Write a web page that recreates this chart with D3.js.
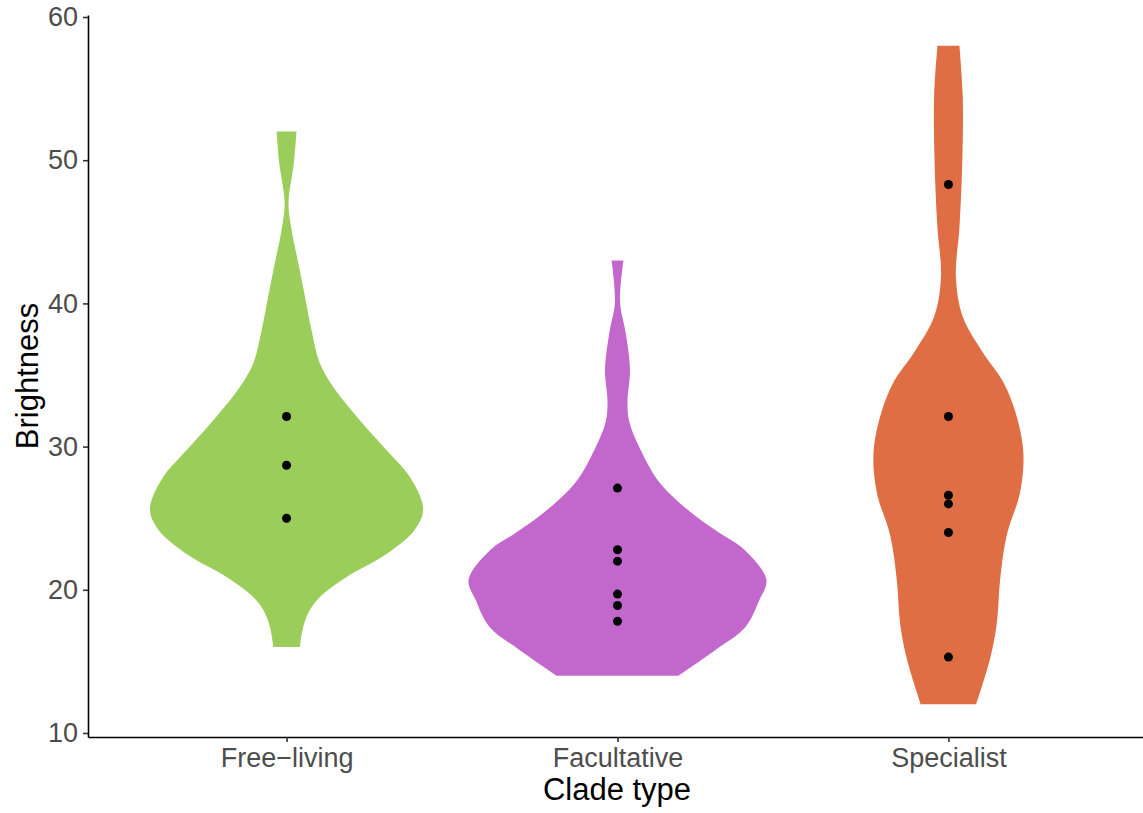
<!DOCTYPE html>
<html>
<head>
<meta charset="utf-8">
<script src="https://cdn.jsdelivr.net/npm/d3@7"></script>
<style>
    body { margin: 0; background: #fff; }
    text { font-family: "Liberation Sans", Arial, sans-serif; }
</style>
</head>
<body>
<div id="chart_div"></div>
<script>
// clade types on the x axis
const categories = ["Free\u2212living", "Facultative", "Specialist"];
const colors = ["#9ACD5A", "#C268CD", "#DF6E45"];

// violin outlines: [brightness, relative density]
const freeLivingDensity = [
    [16.0, 0.089], [17.2, 0.107], [18.4, 0.146], [19.5, 0.224], [20.9, 0.403],
    [22.5, 0.671], [24.2, 0.861], [25.6, 0.917], [27.7, 0.839], [30.0, 0.649],
    [32.1, 0.47], [34.0, 0.324], [35.8, 0.224], [38.1, 0.168], [40.5, 0.123],
    [42.8, 0.079], [45.1, 0.034], [47.0, 0.013], [49.8, 0.049], [52.0, 0.067]
];
const facultativeDensity = [
    [14.0, 0.409], [15.8, 0.658], [17.4, 0.859], [19.3, 0.953], [20.7, 1.0],
    [22.8, 0.852], [24.0, 0.68], [25.2, 0.517], [27.5, 0.282], [29.8, 0.154],
    [31.7, 0.08], [33.1, 0.067], [35.4, 0.084], [38.0, 0.054], [40.1, 0.017],
    [43.0, 0.04]
];
const specialistDensity = [
    [12.0, 0.186], [15.2, 0.28], [17.6, 0.324], [20.7, 0.347], [23.8, 0.391],
    [26.8, 0.481], [29.6, 0.503], [32.3, 0.453], [34.5, 0.369], [36.7, 0.223],
    [39.1, 0.095], [41.9, 0.05], [45.3, 0.074], [49.9, 0.093], [54.5, 0.096],
    [58.0, 0.074]
];

// points drawn on top
const freeLivingPoints = [32.1, 28.7, 25.0];
const facultativePoints = [27.1, 22.8, 22.0, 19.7, 18.9, 17.8];
const specialistPoints = [48.3, 32.1, 26.6, 26.0, 24.0, 15.3];

const yTicks = [10, 20, 30, 40, 50, 60];

const width = 1143;
const height = 813;

const densities = [freeLivingDensity, facultativeDensity, specialistDensity];
const points = [freeLivingPoints, facultativePoints, specialistPoints];

const svg = d3.select("#chart_div")
    .append("svg")
    .attr("width", width)
    .attr("height", height);

const x = d3.scalePoint()
    .domain(categories)
    .range([88, 1147])
    .padding(0.6);

const y = d3.scaleLinear()
    .domain([9.72, 60.14])
    .range([737, 15]);

const w = d3.scaleLinear()
    .domain([0, 1])
    .range([0, 0.45 * x.step()]);

// violins
categories.forEach((cat, i) => {
    const cx = x(cat);
    const area = d3.area()
        .y(d => y(d[0]))
        .x0(d => cx - w(d[1]))
        .x1(d => cx + w(d[1]))
        .curve(d3.curveCatmullRom);
    svg.append("path")
        .datum(densities[i])
        .attr("d", area)
        .attr("fill", colors[i]);

    svg.append("g")
        .selectAll("circle")
        .data(points[i])
        .enter()
        .append("circle")
        .attr("cx", cx)
        .attr("cy", d => y(d))
        .attr("r", 4.5)
        .attr("fill", "#000");
});

// axes
const yAxis = svg.append("g")
    .attr("transform", "translate(88,0)")
    .call(d3.axisLeft(y).tickValues(yTicks).tickSize(5).tickPadding(5).tickSizeOuter(0));

const xAxis = svg.append("g")
    .attr("transform", "translate(0,737)")
    .call(d3.axisBottom(x).tickSize(5).tickPadding(6).tickSizeOuter(0));

[yAxis, xAxis].forEach(g => {
    g.select(".domain").attr("stroke", "#000").attr("stroke-width", 1.6);
    g.selectAll(".tick line").attr("stroke", "#333").attr("stroke-width", 1.6);
    g.selectAll(".tick text")
        .attr("fill", "#4D4D4D")
        .style("font-size", "27px")
        .style("font-family", "'Liberation Sans', Arial, sans-serif");
});

svg.append("text")
    .attr("x", 617)
    .attr("y", 800)
    .attr("text-anchor", "middle")
    .style("font-size", "31px")
    .attr("fill", "#000")
    .text("Clade type");

svg.append("text")
    .attr("transform", "translate(38,376) rotate(-90)")
    .attr("text-anchor", "middle")
    .style("font-size", "31px")
    .attr("fill", "#000")
    .text("Brightness");
</script>
</body>
</html>
